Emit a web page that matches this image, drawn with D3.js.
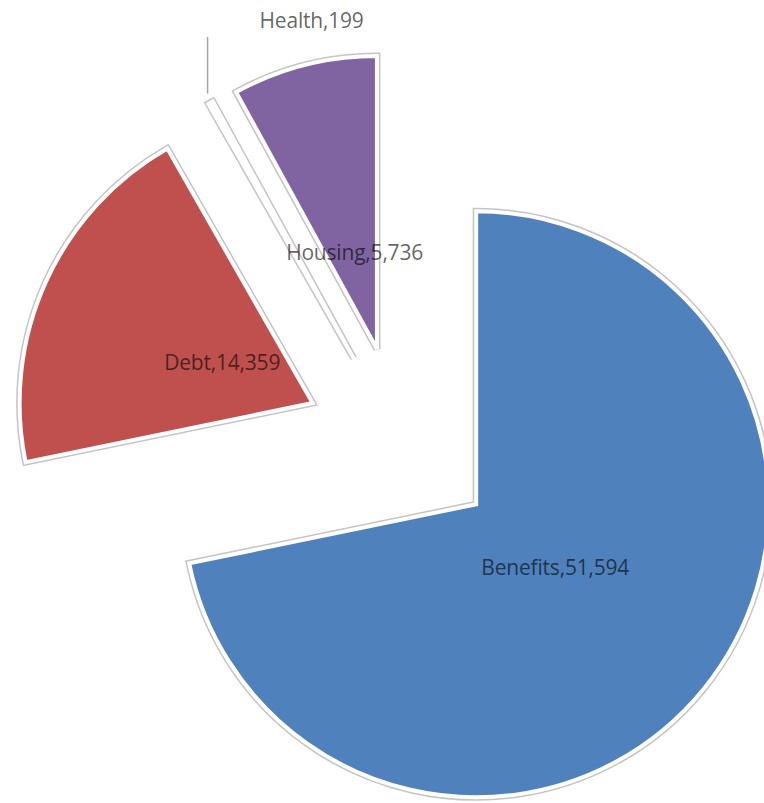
<!DOCTYPE html>
<html>
<head>
<meta charset="utf-8">
<script src="https://cdn.jsdelivr.net/npm/d3@7"></script>
<style>
  html, body { margin: 0; padding: 0; background: #fff; }
  svg { display: block; }
</style>
</head>
<body>
<svg id="chart" width="764" height="803"></svg>
<script>
// Cases by category
const categories = ["Benefits", "Debt", "Health", "Housing"];
const values = [51594, 14359, 199, 5736];
const colors = ["#4f81bd", "#c0504d", "#9bbb59", "#8064a2"];

const width = 764, height = 803;
const cx = 401, cy = 443;      // pie centre
const radius = 293;
const explode = 97;            // every slice is pulled out from the centre

const svg = d3.select("#chart");
const fmt = d3.format(",");

const data = categories.map((c, i) => ({ name: c, value: values[i], color: colors[i] }));

const pie = d3.pie().sort(null).value(d => d.value).startAngle(0).endAngle(2 * Math.PI);
const arcs = pie(data);

const arc = d3.arc().innerRadius(0).outerRadius(radius);

const mid = a => (a.startAngle + a.endAngle) / 2;
const dir = a => [Math.sin(mid(a)), -Math.cos(mid(a))];

const g = svg.append("g").attr("transform", `translate(${cx},${cy})`);

const slices = g.selectAll("g.slice")
  .data(arcs)
  .join("g")
  .attr("class", "slice")
  .attr("transform", a => {
    const [dx, dy] = dir(a);
    return `translate(${dx * explode},${dy * explode})`;
  });

// grey outer rim, then white bevel over the fill
slices.append("path")
  .attr("d", arc)
  .attr("fill", "none")
  .attr("stroke", "#c4c4c4")
  .attr("stroke-width", 7)
  .attr("stroke-linejoin", "miter");

slices.append("path")
  .attr("d", arc)
  .attr("fill", a => a.data.name === "Health" ? "#ffffff" : a.data.color)
  .attr("stroke", "#ffffff")
  .attr("stroke-width", 4)
  .attr("stroke-linejoin", "miter");

// Data labels
const labelStyle = sel => sel
  .attr("font-family", "'Open Sans', sans-serif")
  .attr("font-size", 21)
  .attr("letter-spacing", -0.2)
  .attr("fill", "rgba(0,0,0,0.62)")
  .attr("text-anchor", "middle")
  .attr("dominant-baseline", "central");

const labelNudge = { Benefits: [3, 1], Debt: [-1, -1], Housing: [2, -2] };

arcs.filter(a => a.data.name !== "Health").forEach(a => {
  const [dx, dy] = dir(a);
  const rr = explode + radius * 0.335;
  const n = labelNudge[a.data.name] || [0, 0];
  g.append("text")
    .call(labelStyle)
    .attr("x", dx * rr + n[0])
    .attr("y", dy * rr + n[1])
    .text(`${a.data.name},${fmt(a.data.value)}`);
});

// Health is too thin for an inside label: leader line up to an outside label
const health = arcs.find(a => a.data.name === "Health");
const [hx, hy] = dir(health);
const tipX = hx * (explode + radius) - 3;
const tipY = hy * (explode + radius) - 9;
const labelY = -cy + 20;

g.append("line")
  .attr("x1", tipX).attr("y1", tipY)
  .attr("x2", tipX).attr("y2", labelY + 17)
  .attr("stroke", "#a6a6a6")
  .attr("stroke-width", 1.5);

g.append("text")
  .call(labelStyle)
  .attr("x", tipX + 104)
  .attr("y", labelY)
  .text(`${health.data.name},${fmt(health.data.value)}`);
</script>
</body>
</html>
